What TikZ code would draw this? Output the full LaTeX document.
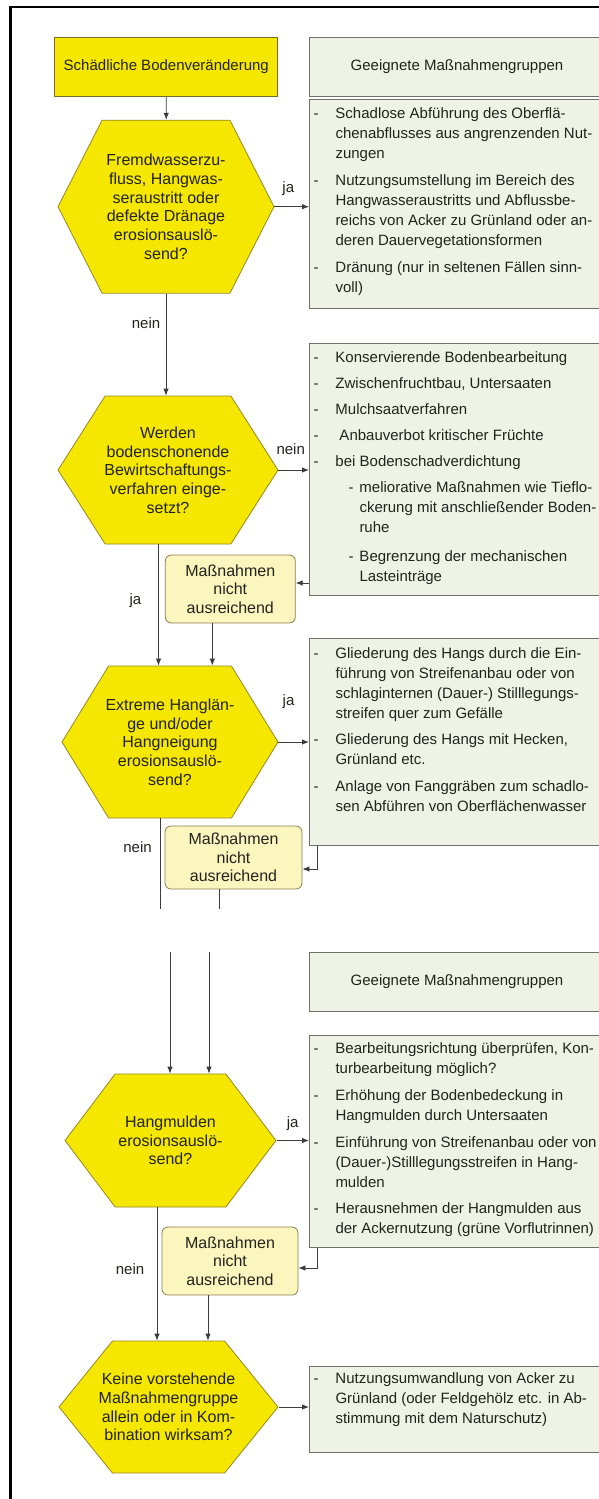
\documentclass[tikz,border=0pt]{standalone}
\usepackage{fontspec}
\setmainfont{Liberation Sans}
\usetikzlibrary{shapes.symbols,arrows.meta}

\definecolor{hexfill}{RGB}{245,231,0}
\definecolor{hexline}{RGB}{150,135,40}
\definecolor{boxfill}{RGB}{239,243,230}
\definecolor{boxline}{RGB}{112,112,106}
\definecolor{notefill}{RGB}{251,245,190}
\definecolor{noteline}{RGB}{140,128,80}
\definecolor{flowline}{RGB}{60,60,60}
\definecolor{inktext}{RGB}{35,35,30}

\newcommand{\dashitem}{\makebox[22pt][l]{-}}
\newcommand{\goon}{\hspace*{22pt}}
\newcommand{\subdash}{\hspace*{35pt}\makebox[11pt][l]{-}}
\newcommand{\subgoon}{\hspace*{46pt}}
\newcommand{\listtext}[3][19pt]{\parbox[c][#2][t]{300pt}{\fontsize{15}{20}\selectfont\raggedright\rule{0pt}{#1}#3}}

\tikzset{
  frame/.style={draw=black, line width=2.5pt},
  decision/.style={shape=signal, signal to=east and west, draw=hexline, fill=hexfill,
    line width=0.8pt, align=center, inner xsep=-14pt, inner ysep=0pt, text=inktext,
    font=\fontsize{16}{18.7}\selectfont},
  startbox/.style={rectangle, draw=hexline!80!black, fill=hexfill, line width=0.8pt,
    minimum width=223pt, minimum height=59pt, text=inktext, font=\fontsize{15}{18}\selectfont},
  headbox/.style={rectangle, draw=boxline, fill=boxfill, line width=1pt, anchor=north west,
    minimum width=295pt, minimum height=59pt, text=inktext, font=\fontsize{15}{18}\selectfont},
  listbox/.style={rectangle, draw=boxline, fill=boxfill, line width=1pt, anchor=north west,
    inner xsep=4pt, inner ysep=0pt, text=inktext},
  notebox/.style={rectangle, rounded corners=6pt, draw=noteline, fill=notefill, line width=0.8pt,
    align=center, inner sep=0pt, text=inktext, font=\fontsize{16}{18.5}\selectfont},
  flow/.style={draw=flowline, line width=0.8pt, -{Latex[length=7pt,width=5.5pt]}},
  plain/.style={draw=flowline, line width=0.8pt},
  answer/.style={inner sep=0pt, text=inktext, font=\fontsize{15}{18}\selectfont},
}

\begin{document}
\begin{tikzpicture}[x=1pt,y=-1pt]
\useasboundingbox (0,0) rectangle (599,1499);
\clip (0,0) rectangle (599,1499);
\draw[frame] (10.5,1510) -- (10.5,7) -- (610,7);

% Kopf
\node[startbox] (start) at (166.3,67) {Schädliche Bodenveränderung};
\node[headbox] (head1) at (309,36.7) {Geeignete Maßnahmengruppen};

% Frage 1: Fremdwasser
\node[decision, minimum width=216pt, minimum height=173pt, signal pointer angle=126] (q1) at (166,206.7)
  {Fremdwasserzu-\\fluss, Hangwas-\\seraustritt oder\\defekte Dränage\\erosionsauslö-\\send?};
\node[listbox] (m1) at (309,99.3) {\listtext{209pt}{%
  \dashitem Schadlose Abführung des Oberflä-\\
  \goon chenabflusses aus angrenzenden Nut-\\
  \goon zungen\\[7pt]
  \dashitem Nutzungsumstellung im Bereich des\\
  \goon Hangwasseraustritts und Abflussbe-\\
  \goon reichs von Acker zu Grünland oder an-\\
  \goon deren Dauervegetationsformen\\[7pt]
  \dashitem Dränung (nur in seltenen Fällen sinn-\\
  \goon voll)}};

% Frage 2: Bewirtschaftung
\node[decision, minimum width=220pt, minimum height=148pt, signal pointer angle=115] (q2) at (168,470)
  {Werden\\bodenschonende\\Bewirtschaftungs-\\verfahren einge-\\setzt?};
\node[listbox] (m2) at (309,343) {\listtext[19.4pt]{252pt}{%
  \dashitem Konservierende Bodenbearbeitung\\[6pt]
  \dashitem Zwischenfruchtbau, Untersaaten\\[6pt]
  \dashitem Mulchsaatverfahren\\[6pt]
  \dashitem\hspace*{4pt}Anbauverbot kritischer Früchte\\[6pt]
  \dashitem bei Bodenschadverdichtung\\[6pt]
  \subdash meliorative Maßnahmen wie Tieflo-\\
  \subgoon ckerung mit anschließender Boden-\\
  \subgoon ruhe\\[9pt]
  \subdash Begrenzung der mechanischen\\
  \subgoon Lasteinträge}};
\node[notebox, minimum width=130pt, minimum height=68pt] (n1) at (230.3,589)
  {Maßnahmen\\nicht\\ausreichend};

% Frage 3: Hanglaenge
\node[decision, minimum width=216pt, minimum height=152pt, signal pointer angle=117] (q3) at (170,742)
  {Extreme Hanglän-\\ge und/oder\\Hangneigung\\erosionsauslö-\\send?};
\node[listbox] (m3) at (309,638) {\listtext[20.4pt]{207pt}{%
  \dashitem Gliederung des Hangs durch die Ein-\\
  \goon führung von Streifenanbau oder von\\
  \goon schlaginternen (Dauer-) Stilllegungs-\\
  \goon streifen quer zum Gefälle\\[6pt]
  \dashitem Gliederung des Hangs mit Hecken,\\
  \goon Grünland etc.\\[7pt]
  \dashitem Anlage von Fanggräben zum schadlo-\\
  \goon sen Abführen von Oberflächenwasser}};
\node[notebox, minimum width=137pt, minimum height=63pt] (n2) at (233.5,857.5)
  {Maßnahmen\\nicht\\ausreichend};

% Seitenumbruch
\coordinate (cutA) at (160,909);
\coordinate (cutB) at (219,909);
\coordinate (resA) at (170,952);
\coordinate (resB) at (209,952);
\node[headbox] (head2) at (309,952) {Geeignete Maßnahmengruppen};

% Frage 4: Hangmulden
\node[decision, minimum width=211pt, minimum height=133pt, signal pointer angle=106] (q4) at (170.5,1140.5)
  {Hangmulden\\erosionsauslö-\\send?};
\node[listbox] (m4) at (309,1035) {\listtext[18.4pt]{212pt}{%
  \dashitem Bearbeitungsrichtung überprüfen, Kon-\\
  \goon turbearbeitung möglich?\\[7pt]
  \dashitem Erhöhung der Bodenbedeckung in\\
  \goon Hangmulden durch Untersaaten\\[7pt]
  \dashitem Einführung von Streifenanbau oder von\\
  \goon (Dauer-)Stilllegungsstreifen in Hang-\\
  \goon mulden\\[6pt]
  \dashitem Herausnehmen der Hangmulden aus\\
  \goon der Ackernutzung (grüne Vorflutrinnen)}};
\node[notebox, minimum width=136pt, minimum height=68pt] (n3) at (230,1261)
  {Maßnahmen\\nicht\\ausreichend};

% Frage 5: Kombination
\node[decision, minimum width=219pt, minimum height=132pt, signal pointer angle=102] (q5) at (168.5,1407)
  {Keine vorstehende\\Maßnahmengruppe\\allein oder in Kom-\\bination wirksam?};
\node[listbox] (m5) at (309,1366) {\listtext[17pt]{86pt}{%
  \dashitem Nutzungsumwandlung von Acker zu\\
  \goon Grünland (oder Feldgehölz etc. in Ab-\\
  \goon stimmung mit dem Naturschutz)}};

% Verbindungen
\draw[flow] (start) -- (q1);
\draw[flow] (q1.east) -- node[answer, pos=.4, yshift=18pt]{ja} (q1.east -| m1.west);
\draw[flow] (q1.south) -- node[answer, pos=.29, xshift=-20pt]{nein} (q1.south |- q2.north);
\draw[flow] (q2.east) -- node[answer, pos=.4, yshift=21pt]{nein} (q2.east -| m2.west);
\draw[flow] ([yshift=6pt]n1.east -| m2.west) -- ([yshift=6pt]n1.east);
\draw[flow] ([xshift=-9.5pt]q2.south) -- node[answer, pos=.46, xshift=-23pt]{ja}
  ([xshift=-9.5pt]q2.south |- q3.north);
\draw[flow] ([xshift=-18pt]n1.south) -- ([xshift=-18pt]n1.south |- q3.north);
\draw[flow] (q3.east) -- node[answer, pos=.33, yshift=40pt]{ja} (q3.east -| m3.west);
\draw[flow] ([xshift=8pt]m3.south west) |- ([yshift=-11.5pt]n2.east);
\draw[plain] ([xshift=-10pt]q3.south) -- node[answer, pos=.32, xshift=-22.5pt]{nein} (cutA);
\draw[plain] ([xshift=-14.5pt]n2.south) -- (cutB);
\draw[flow] (resA) -- (resA |- q4.north);
\draw[flow] (resB) -- (resB |- q4.north);
\draw[flow] (q4.east) -- node[answer, pos=.5, yshift=17pt]{ja} (q4.east -| m4.west);
\draw[flow] ([xshift=8pt]m4.south west) |- ([yshift=-7pt]n3.east);
\draw[flow] ([xshift=-13.5pt]q4.south) -- node[answer, pos=.46, xshift=-27pt]{nein}
  ([xshift=-13.5pt]q4.south |- q5.north);
\draw[flow] ([xshift=-22pt]n3.south) -- ([xshift=-22pt]n3.south |- q5.north);
\draw[flow] (q5.east) -- (q5.east -| m5.west);
\end{tikzpicture}
\end{document}
